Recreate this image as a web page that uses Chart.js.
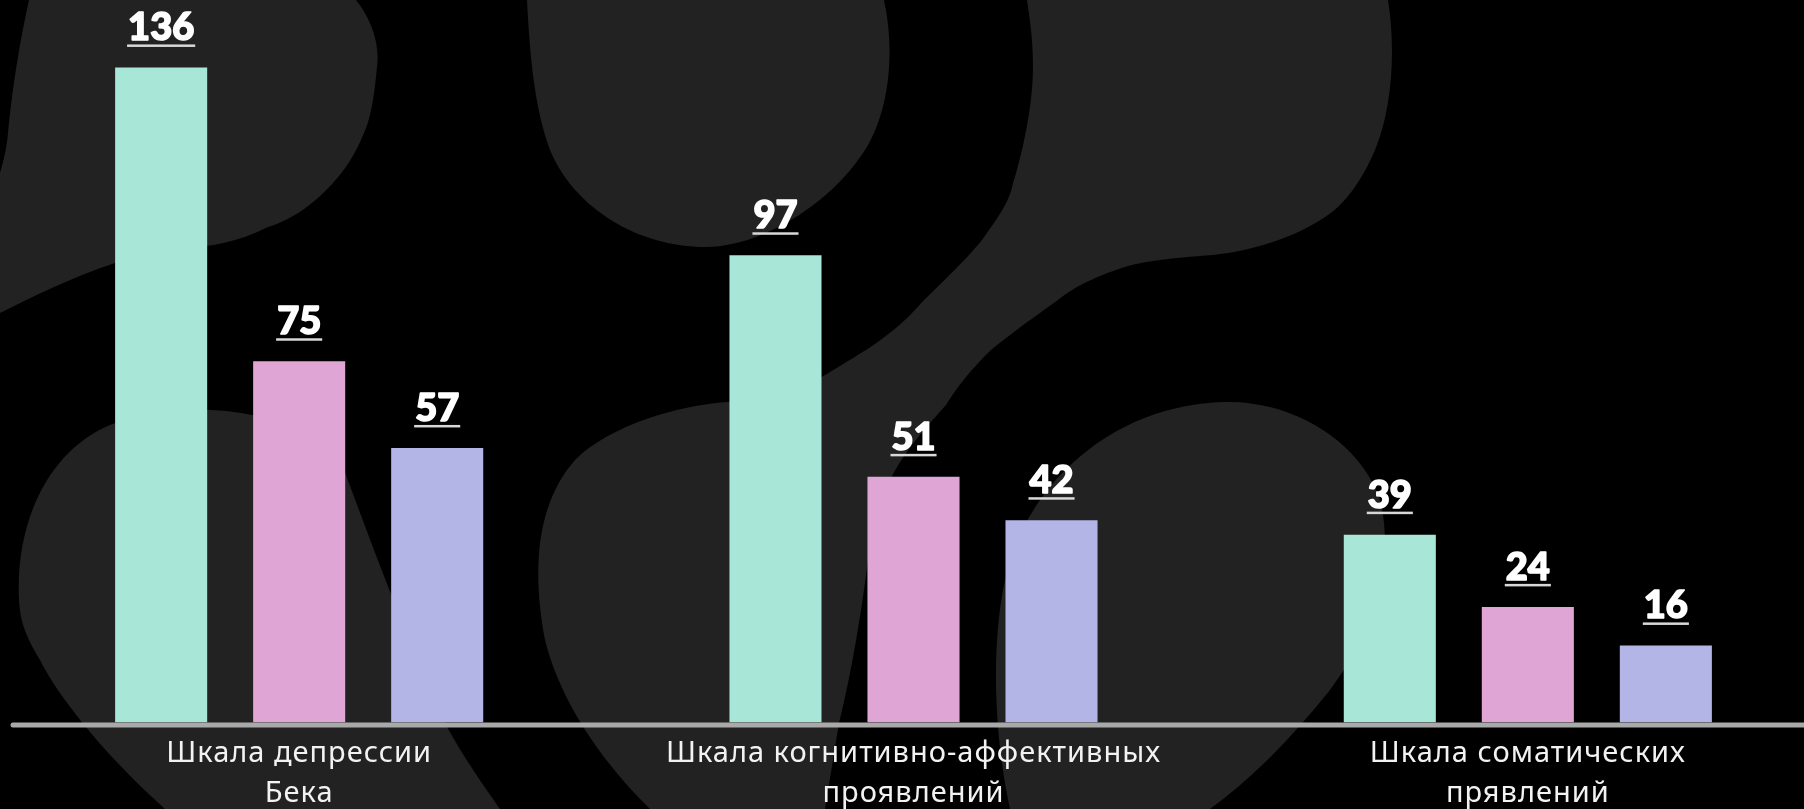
<!DOCTYPE html>
<html lang="ru">
<head>
<meta charset="UTF-8">
<title>Шкалы депрессии Бека</title>
<script src="https://cdn.jsdelivr.net/npm/chart.js@4.4.0/dist/chart.umd.min.js"></script>
<style>
    * { margin: 0; padding: 0; box-sizing: border-box; }
    html, body { width: 1804px; height: 809px; overflow: hidden; background: #000; }
    #bg { position: absolute; left: 0; top: 0; }
    /* the plot is a bit wider than the window so the groups sit where they should */
    #chart { position: absolute; left: -8px; top: 0; }
</style>
</head>
<body>
<svg id="bg" width="1804" height="809" viewBox="0 0 1804 809">
    <g fill="#222222">
        <path d="M29,0 L356,0 C372,20 380,45 377,67 C374,100 370,120 364,133 C355,155 345,170 333,183 C310,208 290,220 268,227 C250,236 232,242 214,245 C170,250 140,255 115,263 C70,278 30,298 0,313 L0,173 C4,160 7,145 8,133 C12,90 20,40 29,0 Z"/>
        <path d="M527,0 C530,60 535,110 550,150 C575,210 640,247 705,247 C760,247 830,205 865,150 C890,110 895,50 884,0 Z"/>
        <path d="M1027,0 L1388,0 C1396,50 1392,110 1375,150 C1360,185 1345,200 1338,207 C1310,232 1260,250 1213,255 C1170,258 1140,262 1125,267 C1090,278 1070,290 1058,300 C1030,320 1005,338 991,350 C970,370 955,390 946,405 C915,440 875,480 868,560 C858,640 845,700 839,723 L825,809 L650,809 C600,760 560,700 545,640 C530,560 540,500 575,460 C610,425 680,405 727,402 C745,401 758,401 768,400 C800,392 830,372 866,350 C900,328 915,310 924,300 C950,275 970,255 982,240 C1000,215 1010,200 1013,183 C1025,145 1033,100 1033,67 C1033,40 1030,20 1027,0 Z"/>
        <path d="M19,600 C15,520 50,450 110,425 C170,400 260,405 320,440 C340,455 345,470 346,475 C370,540 400,620 430,690 C450,740 480,780 500,809 L165,809 C110,760 60,700 40,660 C25,635 20,620 19,600 Z"/>
        <path d="M1225,402 C1290,400 1360,440 1380,500 C1395,560 1375,630 1330,690 C1290,740 1250,780 1210,809 L1010,809 C995,740 990,650 1005,580 C1020,500 1100,405 1225,402 Z"/>
    </g>
</svg>
<canvas id="chart" width="1843" height="809"></canvas>
<script>
    const categories = [
        ['Шкала депрессии', 'Бека'],
        ['Шкала когнитивно-аффективных', 'проявлений'],
        ['Шкала соматических', 'прявлений']
    ];
    const firstSeries = [136, 97, 39];
    const secondSeries = [75, 51, 24];
    const thirdSeries = [57, 42, 16];
    const barColors = ['#a8e6d8', '#dfa6d5', '#b3b5e6'];

    // wider tracking for the category captions
    const tracking = {
        id: 'tracking',
        beforeDraw(chart) { chart.ctx.letterSpacing = '1px'; },
        afterDraw(chart) { chart.ctx.letterSpacing = '0px'; }
    };

    // grey baseline under the bars
    const baseline = {
        id: 'baseline',
        afterDatasetsDraw(chart) {
            const ctx = chart.ctx;
            const y0 = chart.scales.y.getPixelForValue(0);
            ctx.save();
            ctx.strokeStyle = '#a9a9a9';
            ctx.lineWidth = 5;
            ctx.lineCap = 'round';
            ctx.beginPath();
            ctx.moveTo(21, y0 + 2.5);
            ctx.lineTo(chart.width, y0 + 2.5);
            ctx.stroke();
            ctx.restore();
        }
    };

    // bold underlined numbers above each bar
    const valueLabels = {
        id: 'valueLabels',
        afterDatasetsDraw(chart) {
            const ctx = chart.ctx;
            ctx.save();
            ctx.letterSpacing = '0px';
            ctx.font = '900 38px Lato, Inter, sans-serif';
            ctx.textAlign = 'center';
            ctx.textBaseline = 'alphabetic';
            ctx.lineJoin = 'round';
            chart.data.datasets.forEach((ds, i) => {
                chart.getDatasetMeta(i).data.forEach((bar, j) => {
                    const text = String(ds.data[j]);
                    const w = ctx.measureText(text).width;
                    const base = bar.y - 27;
                    ctx.fillStyle = '#ffffff';
                    ctx.strokeStyle = '#ffffff';
                    ctx.lineWidth = 1.6;
                    ctx.fillText(text, bar.x, base);
                    ctx.strokeText(text, bar.x, base);
                    ctx.fillStyle = '#d8d8d8';
                    ctx.fillRect(bar.x - w / 2 - 1, base + 4, w + 2, 2.5);
                });
            });
            ctx.restore();
        }
    };

    new Chart(document.getElementById('chart'), {
        type: 'bar',
        data: {
            labels: categories,
            datasets: [
                { data: firstSeries, backgroundColor: barColors[0] },
                { data: secondSeries, backgroundColor: barColors[1] },
                { data: thirdSeries, backgroundColor: barColors[2] }
            ]
        },
        options: {
            responsive: false,
            animation: false,
            categoryPercentage: 0.674,
            barPercentage: 0.667,
            layout: { padding: 0 },
            plugins: {
                legend: { display: false },
                tooltip: { enabled: false }
            },
            scales: {
                x: {
                    grid: { display: false },
                    border: { display: false },
                    ticks: {
                        color: '#f2f2f2',
                        font: { family: 'Noto Sans', size: 29, lineHeight: 1.38 },
                        padding: 3,
                        autoSkip: false,
                        maxRotation: 0
                    },
                    afterFit(scale) { scale.height = 86.5; }
                },
                y: {
                    display: false,
                    min: 0,
                    max: 150
                }
            }
        },
        plugins: [tracking, baseline, valueLabels]
    });
</script>
</body>
</html>
